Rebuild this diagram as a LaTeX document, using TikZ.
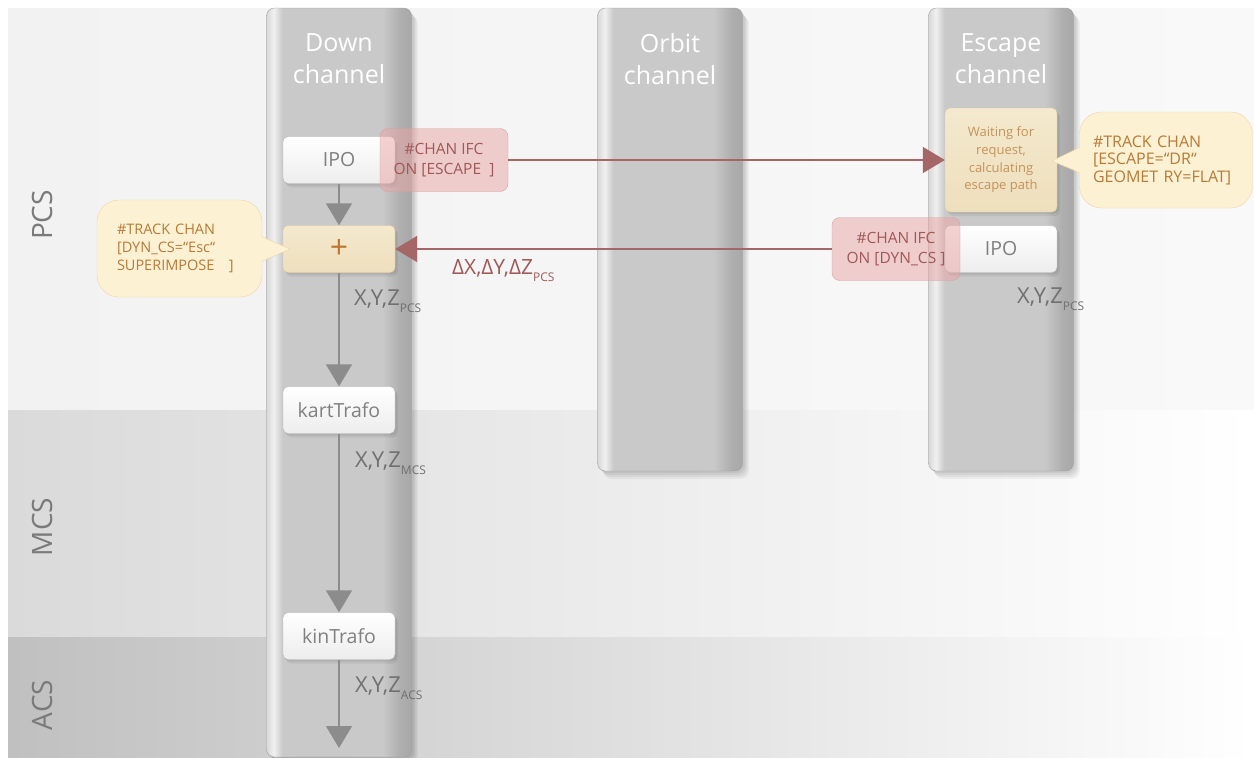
\documentclass[tikz,border=0pt]{standalone}
\usepackage{fontspec}
\setmainfont{Open Sans}
\usetikzlibrary{arrows.meta,shadows}

% ====== Colours ======
\definecolor{pcsLeft}{HTML}{F2F2F2}
\definecolor{pcsRight}{HTML}{F9F9F9}
\definecolor{mcsLeft}{HTML}{DADADA}
\definecolor{acsLeft}{HTML}{C0C0C0}
\definecolor{chanEdge}{HTML}{A0A0A0}
\definecolor{chanA}{HTML}{D8D8D8}
\definecolor{chanHi}{HTML}{F0F0F0}
\definecolor{chanMid}{HTML}{C9C9C9}
\definecolor{chanDark}{HTML}{A8A8A8}
\definecolor{boxEdge}{HTML}{B4B4B4}
\definecolor{boxLow}{HTML}{EDEDED}
\definecolor{boxText}{HTML}{808080}
\definecolor{warmTop}{HTML}{F4E9CE}
\definecolor{warmLow}{HTML}{EEDFBC}
\definecolor{warmEdge}{HTML}{E2C99D}
\definecolor{warmText}{HTML}{C4925A}
\definecolor{plusText}{HTML}{C0762E}
\definecolor{ifcFill}{HTML}{EBA5A5}
\definecolor{ifcEdge}{HTML}{D8A0A0}
\definecolor{ifcText}{HTML}{A05858}
\definecolor{ifcArrow}{HTML}{A46666}
\definecolor{callFill}{HTML}{FDF1D4}
\definecolor{callEdge}{HTML}{F0D6A6}
\definecolor{callText}{HTML}{B87A36}
\definecolor{flowGray}{HTML}{8C8C8C}
\definecolor{coordGray}{HTML}{707070}
\definecolor{labelGray}{HTML}{7A7A7A}

\pgfdeclarehorizontalshading{chanshade}{100bp}{color(0bp)=(chanA); color(25bp)=(chanA);
  color(27.5bp)=(chanHi); color(30.5bp)=(chanMid); color(65bp)=(chanMid);
  color(71bp)=(chanDark!80!chanMid); color(75bp)=(chanDark); color(100bp)=(chanDark)}

\newcommand\lowtag[1]{\raisebox{-7pt}{\fontsize{12}{12}\selectfont #1}}

\begin{document}
\begin{tikzpicture}[x=1pt, y=-1pt,
    softshadow/.style={
        general shadow={fill=black, opacity=0.05, shadow xshift=2pt, shadow yshift=-2pt},
        general shadow={fill=black, opacity=0.05, shadow xshift=3.5pt, shadow yshift=-4pt},
        general shadow={fill=black, opacity=0.05, shadow xshift=5pt, shadow yshift=-6pt},
        general shadow={fill=black, opacity=0.04, shadow xshift=6.5pt, shadow yshift=-8pt}},
    smallshadow/.style={
        general shadow={fill=black, opacity=0.06, shadow xshift=1.5pt, shadow yshift=-2pt},
        general shadow={fill=black, opacity=0.06, shadow xshift=3pt, shadow yshift=-4pt}},
    channel/.style={rectangle, rounded corners=8pt, draw=chanEdge, shade, shading=chanshade,
        minimum width=145pt, inner sep=0pt, softshadow},
    chanhead/.style={text=white, align=center, font=\fontsize{25}{32}\selectfont},
    bandlabel/.style={rotate=90, text=labelGray, font=\fontsize{28}{30}\selectfont},
    blockbox/.style={rectangle, rounded corners=5pt, draw=boxEdge, top color=white, bottom color=boxLow,
        minimum width=112pt, minimum height=47pt, text=boxText, font=\fontsize{19.5}{22}\selectfont,
        smallshadow},
    warmbox/.style={blockbox, top color=warmTop, bottom color=warmLow, draw=warmEdge, text=warmText},
    ifcbox/.style={rectangle, rounded corners=8pt, fill=ifcFill, fill opacity=0.5, text opacity=1,
        draw=ifcEdge, text=ifcText, align=center, minimum width=128pt, minimum height=63pt,
        inner sep=2pt, font=\fontsize{15.5}{20}\selectfont},
    callout/.style={rectangle, rounded corners=22pt, fill=callFill, draw=callEdge, text=callText,
        align=left, inner ysep=4pt},
    flowline/.style={line width=1.5pt, draw=flowGray, -{Triangle[length=22pt,width=26pt]}},
    chanline/.style={line width=1.5pt, draw=ifcArrow, -{Triangle[length=22pt,width=26pt]}},
    coordtext/.style={text=coordGray, anchor=base west, inner sep=0pt, font=\fontsize{22}{24}\selectfont},
]

    % ====== Column positions ======
    \def\xDown{339}
    \def\xOrbit{670}
    \def\xEsc{1001}

    \useasboundingbox (0,0) rectangle (1254,758);

    % ===== Coordinate system bands =====
    \shade[left color=pcsLeft, right color=pcsRight] (8,8) rectangle (1254,410);
    \shade[left color=mcsLeft, right color=white] (8,410) rectangle (1254,637);
    \shade[left color=acsLeft, right color=white] (8,637) rectangle (1254,758);

    \node[bandlabel] (pcsLabel) at (42,215) {PCS};
    \node[bandlabel] (mcsLabel) at (42,527) {MCS};
    \node[bandlabel] (acsLabel) at (42,705) {ACS};

    % ===== Channels =====
    \node[channel, minimum height=749pt] (downChan) at (\xDown,382.5) {};
    \node[channel, minimum height=463pt] (orbitChan) at (\xOrbit,239.5) {};
    \node[channel, minimum height=463pt] (escChan) at (\xEsc,239.5) {};

    \node[chanhead] (downHead) at (\xDown,59) {Down\\channel};
    \node[chanhead] (orbitHead) at (\xOrbit,59) {Orbit\\channel};
    \node[chanhead] (escHead) at (\xEsc,59) {Escape\\channel};

    % ===== Down channel blocks =====
    \node[blockbox] (ipoDown) at (\xDown,160) {IPO};
    \node[warmbox, font=\fontsize{32}{32}\selectfont, text=plusText] (plusDown) at (\xDown,249) {+};
    \node[blockbox] (kartDown) at (\xDown,410) {kartTrafo};
    \node[blockbox] (kinDown) at (\xDown,636) {kinTrafo};
    \coordinate (downEnd) at (\xDown,748);

    % ===== Escape channel blocks =====
    \node[warmbox, minimum height=104pt, align=center, font=\fontsize{13}{17.7}\selectfont]
        (waitEsc) at (\xEsc,160) {Waiting for\\request,\\calculating\\escape path};
    \node[blockbox] (ipoEsc) at (\xEsc,249) {IPO};

    % ===== Flow in the down channel =====
    \draw[flowline] (ipoDown) -- (plusDown);
    \draw[flowline] (plusDown) -- (kartDown);
    \draw[flowline] (kartDown) -- (kinDown);
    \draw[flowline] (kinDown) -- (downEnd);

    \node[coordtext] (pcsDown) at (354,305) {X,Y,Z\lowtag{PCS}};
    \node[coordtext] (mcsDown) at (355,467) {X,Y,Z\lowtag{MCS}};
    \node[coordtext] (acsDown) at (355,692) {X,Y,Z\lowtag{ACS}};
    \node[coordtext] (pcsEsc) at (1017,303) {X,Y,Z\lowtag{PCS}};

    % ===== Channel interfaces =====
    \node[ifcbox] (ifcEsc) at (444,160) {\#CHAN IFC\\ON [ESCAPE\ \ ]};
    \node[ifcbox] (ifcDyn) at (896,249) {\#CHAN IFC\\ON [DYN\_CS\ ]};

    \draw[chanline] (ifcEsc) -- (waitEsc);
    \draw[chanline] (ifcDyn) -- (plusDown);
    \node[coordtext, text=ifcText, font=\fontsize{21}{24}\selectfont] (deltaLabel) at (452,274) {ΔX,ΔY,ΔZ\lowtag{PCS}};

    % ===== Callouts =====
    \node[callout, text width=146pt, inner xsep=13.5pt, minimum height=96pt,
          font=\fontsize{16}{17.5}\selectfont] (trackEsc) at (1166,160)
        {\#TRACK CHAN\\[0pt][ESCAPE=“DR“\\GEOMET RY=FLAT]};
    \coordinate (trackEscTip) at (1052,161);
    \fill[callFill] ([xshift=2pt,yshift=13pt]trackEsc.west) -- (trackEscTip) -- ([xshift=2pt,yshift=-13pt]trackEsc.west) -- cycle;
    \draw[callEdge] ([xshift=0.5pt,yshift=13pt]trackEsc.west) -- (trackEscTip) -- ([xshift=0.5pt,yshift=-13pt]trackEsc.west);

    \node[callout, text width=125pt, inner xsep=20pt, minimum height=97pt,
          font=\fontsize{14.5}{18}\selectfont] (trackDown) at (179.5,248.5)
        {\#TRACK CHAN\\[0pt][DYN\_CS=“Esc“\\SUPERIMPOSE\ \ \ ]};
    \coordinate (trackDownTip) at (290,249);
    \fill[callFill] ([xshift=-2pt,yshift=12pt]trackDown.east) -- (trackDownTip) -- ([xshift=-2pt,yshift=-13pt]trackDown.east) -- cycle;
    \draw[callEdge] ([xshift=-0.5pt,yshift=12pt]trackDown.east) -- (trackDownTip) -- ([xshift=-0.5pt,yshift=-13pt]trackDown.east);

\end{tikzpicture}
\end{document}
